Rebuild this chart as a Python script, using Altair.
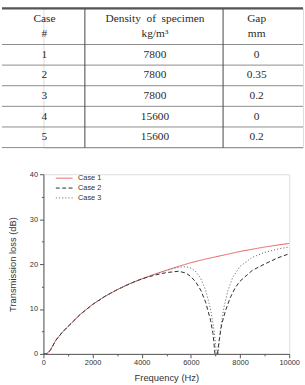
import altair as alt
import pandas as pd

# ---------------- table data ----------------
header_top = ["Case", "Density\u00a0 of\u00a0 specimen", "Gap"]
header_bottom = ["#", "kg/m³", "mm"]
case_ids = ["1", "2", "3", "4", "5"]
densities = ["7800", "7800", "7800", "15600", "15600"]
gaps = ["0", "0.35", "0.2", "0", "0.2"]

# ---------------- curve data ----------------
f1 = [0, 100, 200, 300, 500, 750, 1000, 1500, 2000, 2500, 3000, 3500, 4000, 4500,
      5000, 5500, 6000, 6500, 7000, 7500, 8000, 8500, 9000, 9500, 10000]
tl1 = [0, 0, 0.3, 1.0, 3.0, 4.7, 6.1, 8.8, 11.0, 12.8, 14.3, 15.6, 16.7, 17.7,
       18.6, 19.5, 20.3, 21.0, 21.6, 22.2, 22.8, 23.3, 23.8, 24.2, 24.6]

f2 = [0, 100, 200, 300, 500, 750, 1000, 1500, 2000, 2500, 3000, 3500, 4000, 4500,
      5000, 5500, 5800, 6000, 6200, 6400, 6600, 6800, 6900, 6980, 7080, 7150, 7250,
      7400, 7600, 7800, 8000, 8500, 9000, 9500, 10000]
tl2 = [0, 0, 0.3, 1.0, 3.0, 4.7, 6.1, 8.8, 11.0, 12.8, 14.3, 15.6, 16.7, 17.5,
       18.1, 18.4, 18.0, 17.2, 16.0, 14.2, 11.5, 7.5, 4.5, 0.0, 0.0, 3.0, 6.5,
       9.5, 12.5, 14.7, 16.2, 18.6, 20.0, 21.3, 22.3]

f3 = [0, 100, 200, 300, 500, 750, 1000, 1500, 2000, 2500, 3000, 3500, 4000, 4500,
      5000, 5500, 5800, 6000, 6200, 6400, 6600, 6800, 6950, 7040, 7110, 7200, 7350,
      7500, 7700, 8000, 8500, 9000, 9500, 10000]
tl3 = [0, 0, 0.3, 1.0, 3.0, 4.7, 6.1, 8.8, 11.0, 12.8, 14.3, 15.6, 16.7, 17.7,
       18.6, 19.3, 19.4, 19.1, 18.3, 16.8, 14.2, 10.0, 5.0, 0.0, 0.0, 5.5, 10.5,
       14.0, 17.0, 19.5, 21.5, 22.6, 23.3, 23.8]

series_names = ["Case 1", "Case 2", "Case 3"]
series_colors = ["#e4605c", "#2b2b2b", "#707070"]
series_dash = [[1, 0], [4, 2.5], [1.2, 2]]

# ---------------- table layout (units) ----------------
col_edges = [0, 84, 224, 305]
col_centers = [43, 155, 258]
header_h = 1.75
n_rows = len(case_ids)
total_h = header_h + n_rows

cells = []
for c in range(3):
    cells.append({"x": col_centers[c], "y": 0.53, "t": header_top[c]})
    cells.append({"x": col_centers[c], "y": 1.25, "t": header_bottom[c]})
for i in range(n_rows):
    yc = header_h + i + 0.5
    for c, v in enumerate([case_ids[i], densities[i], gaps[i]]):
        cells.append({"x": col_centers[c], "y": yc, "t": v})
cells_df = pd.DataFrame(cells)

hlines = pd.DataFrame({"y": [header_h + i for i in range(n_rows + 1)],
                       "x": [0] * (n_rows + 1), "x2": [305] * (n_rows + 1)})
top_line = pd.DataFrame({"y": [0], "x": [0], "x2": [305]})
vlines = pd.DataFrame({"x": col_edges[1:3], "y": [0, 0], "y2": [total_h, total_h]})

plot_left = 42  # the table's panel is aligned with the plot's left edge
xs = alt.Scale(domain=[plot_left, 305], nice=False, zero=False)
ys = alt.Scale(domain=[0, total_h], reverse=True, nice=False, zero=False)

tw, th = 305 - plot_left, 141

t_text = alt.Chart(cells_df).mark_text(
    font="Liberation Serif", fontSize=11.5, color="#2a2a2a", baseline="middle"
).encode(
    x=alt.X("x:Q", scale=xs, axis=None),
    y=alt.Y("y:Q", scale=ys, axis=None),
    text="t:N",
)
t_h = alt.Chart(hlines).mark_rule(color="#8a8a8a", strokeWidth=1).encode(
    x=alt.X("x:Q", scale=xs, axis=None), x2="x2:Q",
    y=alt.Y("y:Q", scale=ys, axis=None),
)
t_top = alt.Chart(top_line).mark_rule(color="#555555", strokeWidth=2.2).encode(
    x=alt.X("x:Q", scale=xs, axis=None), x2="x2:Q",
    y=alt.Y("y:Q", scale=ys, axis=None),
)
t_v = alt.Chart(vlines).mark_rule(color="#444444", strokeWidth=1).encode(
    x=alt.X("x:Q", scale=xs, axis=None),
    y=alt.Y("y:Q", scale=ys, axis=None), y2="y2:Q",
)
table = alt.layer(t_h, t_v, t_top, t_text).properties(width=tw, height=th)

# ---------------- line chart ----------------
rows = []
for name, fs, vs in [("Case 1", f1, tl1), ("Case 2", f2, tl2), ("Case 3", f3, tl3)]:
    for f, v in zip(fs, vs):
        rows.append({"f": f, "tl": v, "case": name})
df = pd.DataFrame(rows)

x_axis = alt.Axis(
    values=list(range(0, 10001, 1000)),
    labelExpr="datum.value % 2000 == 0 ? datum.label : ''",
    format="d",
    tickSize={"condition": {"test": "datum.value % 2000 != 0", "value": 2}, "value": 4},
    labelFont="Liberation Sans", labelFontSize=7.5, labelColor="#333333",
    labelPadding=1, title="Frequency (Hz)", titleFont="Liberation Sans",
    titleFontSize=9.5, titleFontWeight="normal", titleColor="#333333",
    titlePadding=6, domainColor="#555555", tickColor="#555555", grid=False,
    labelFlush=False,
)
y_axis = alt.Axis(
    values=list(range(0, 41, 5)),
    labelExpr="datum.value % 10 == 0 ? datum.label : ''",
    tickSize={"condition": {"test": "datum.value % 10 != 0", "value": 2}, "value": 4},
    labelFont="Liberation Sans", labelFontSize=7.5, labelColor="#333333",
    labelPadding=2, title="Transmission loss (dB)", titleFont="Liberation Sans",
    titleFontSize=9.5, titleFontWeight="normal", titleColor="#333333",
    titlePadding=12, domainColor="#555555", tickColor="#555555", grid=False,
)

lines = alt.Chart(df).mark_line(strokeWidth=1, clip=True).encode(
    x=alt.X("f:Q", scale=alt.Scale(domain=[0, 10000], nice=False), axis=x_axis),
    y=alt.Y("tl:Q", scale=alt.Scale(domain=[0, 40], nice=False), axis=y_axis),
    color=alt.Color("case:N", scale=alt.Scale(domain=series_names, range=series_colors),
                    legend=alt.Legend(
                        title=None, orient="none", legendX=12, legendY=-1,
                        symbolType="stroke", symbolSize=289, symbolStrokeWidth=1,
                        labelFont="Liberation Sans", labelFontSize=7.5,
                        labelColor="#333333", labelOffset=5, rowPadding=0,
                        clipHeight=10,
                    )),
    strokeDash=alt.StrokeDash("case:N",
                              scale=alt.Scale(domain=series_names, range=series_dash),
                              legend=None),
    detail="case:N",
).properties(width=249, height=182)

chart = alt.concat(table, lines, columns=1, spacing=21).properties(
    padding={"left": 0, "top": 4, "right": 0, "bottom": 0}
).resolve_legend(color="independent", strokeDash="independent").configure_view(
    stroke=None
).configure(background="white")

chart.save("out.html", embed_options={"renderer": "svg", "actions": False})
